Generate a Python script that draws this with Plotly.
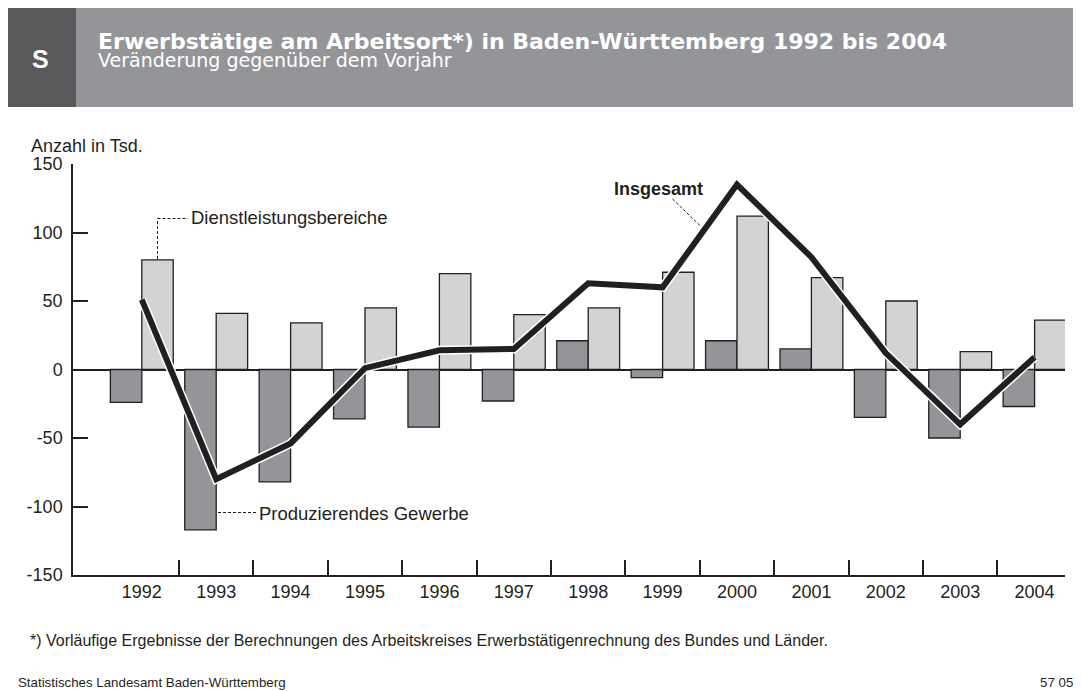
import plotly.graph_objects as go

# ---------------- data ----------------
years = [1992, 1993, 1994, 1995, 1996, 1997, 1998, 1999, 2000, 2001, 2002, 2003, 2004]
produzierendes = [-24, -117, -82, -36, -42, -23, 21, -6, 21, 15, -35, -50, -27]
dienstleistung = [80, 41, 34, 45, 70, 40, 45, 71, 112, 67, 50, 13, 36]
insgesamt = [51, -80, -54, 1, 14, 15, 63, 60, 135, 82, 12, -40, 9]
y_ticks = [-150, -100, -50, 0, 50, 100, 150]
y_tick_labels = ["-150", "-100", "-50", "0", "50", "100", "150"]

# ---------------- geometry (screen pixels; page body has an 8px margin) ----------------
OFF = 8
SW, SH = 1081, 691
FW, FH = SW - OFF, SH - OFF
L, R, T, B = 73, 1065, 164, 575  # plot area in screen pixels
W, H = R - L, B - T


def px(x):
    return (x - L) / W


def py(y):
    return (B - y) / H


INK = "#231f20"
DARK = "#939598"
LIGHT = "#d1d3d4"
BAND = "#939598"
SQUARE = "#58595b"
FONT = "Liberation Sans, Arial, sans-serif"
WIDE = "DejaVu Sans, sans-serif"

fig = go.Figure()
fig.add_trace(go.Bar(x=years, y=produzierendes, name="Produzierendes Gewerbe",
                     marker=dict(color=DARK, line=dict(color=INK, width=1.3))))
fig.add_trace(go.Bar(x=years, y=dienstleistung, name="Dienstleistungsbereiche",
                     marker=dict(color=LIGHT, line=dict(color=INK, width=1.3))))
fig.add_trace(go.Scatter(x=years, y=insgesamt, mode="lines", name="outline",
                         line=dict(color="white", width=9)))
fig.add_trace(go.Scatter(x=years, y=insgesamt, mode="lines", name="Insgesamt",
                         line=dict(color=INK, width=6)))

cat_w = 74.4
x0 = years[0] - (141.8 - L) / cat_w
x1 = x0 + W / cat_w

shapes = [
    # header band
    dict(type="rect", xref="paper", yref="paper", x0=px(5), x1=px(SW + 10), y0=py(107), y1=py(7),
         fillcolor=BAND, line=dict(width=0), layer="below"),
    dict(type="rect", xref="paper", yref="paper", x0=px(5), x1=px(76), y0=py(107), y1=py(7),
         fillcolor=SQUARE, line=dict(width=0), layer="below"),
    # left frame line
    dict(type="line", xref="paper", yref="paper", x0=px(5.5), x1=px(5.5), y0=py(107), y1=py(SH + 5),
         line=dict(color=SQUARE, width=1.5)),
    # Dienstleistung leader
    dict(type="line", xref="paper", yref="paper", x0=px(157.5), x1=px(157.5), y0=py(259), y1=py(218.5),
         line=dict(color=INK, width=1, dash="3px,2px")),
    dict(type="line", xref="paper", yref="paper", x0=px(157.5), x1=px(188), y0=py(218.5), y1=py(218.5),
         line=dict(color=INK, width=1, dash="3px,2px")),
    # Produzierendes leader
    dict(type="line", xref="paper", yref="paper", x0=px(218), x1=px(256), y0=py(512.5), y1=py(512.5),
         line=dict(color=INK, width=1, dash="3px,2px")),
    # Insgesamt leader
    dict(type="line", xref="paper", yref="paper", x0=px(672.5), x1=px(701.5), y0=py(199), y1=py(227),
         line=dict(color=INK, width=1, dash="3px,2px")),
]

title_text = ("<b><span style='font-size:22px'>Erwerbstätige am Arbeitsort*) in Baden-Württemberg 1992 bis 2004</span></b>"
              "<br><span style='font-size:19px'>Veränderung gegenüber dem Vorjahr</span>")

annotations = [
    dict(text="<b>S</b>", x=px(40.5), y=py(59), xref="paper", yref="paper", showarrow=False,
         xanchor="center", yanchor="middle", font=dict(family=FONT, size=25, color="white")),
    dict(text=title_text, x=px(96), y=py(50.5), xref="paper", yref="paper", showarrow=False,
         xanchor="left", yanchor="middle", align="left",
         font=dict(family=WIDE, size=13.5, color="white")),
    dict(text="Anzahl in Tsd.", x=px(29), y=py(146), xref="paper", yref="paper", showarrow=False,
         xanchor="left", yanchor="middle", font=dict(family=FONT, size=18, color=INK)),
    dict(text="Dienstleistungsbereiche", x=px(189), y=py(218), xref="paper", yref="paper",
         showarrow=False, xanchor="left", yanchor="middle", font=dict(family=FONT, size=18.5, color=INK)),
    dict(text="Produzierendes Gewerbe", x=px(257), y=py(513), xref="paper", yref="paper",
         showarrow=False, xanchor="left", yanchor="middle", font=dict(family=FONT, size=18.5, color=INK)),
    dict(text="<b>Insgesamt</b>", x=px(612), y=py(189), xref="paper", yref="paper",
         showarrow=False, xanchor="left", yanchor="middle", font=dict(family=FONT, size=18, color=INK)),
    dict(text="*) Vorläufige Ergebnisse der Berechnungen des Arbeitskreises Erwerbstätigenrechnung des Bundes und Länder.",
         x=px(28), y=py(640), xref="paper", yref="paper", showarrow=False,
         xanchor="left", yanchor="middle", font=dict(family=FONT, size=16, color=INK)),
    dict(text="Statistisches Landesamt Baden-Württemberg", x=px(16), y=py(682), xref="paper", yref="paper",
         showarrow=False, xanchor="left", yanchor="middle", font=dict(family=FONT, size=13.3, color=INK)),
    dict(text="57 05", x=px(1075), y=py(682), xref="paper", yref="paper",
         showarrow=False, xanchor="right", yanchor="middle", font=dict(family=FONT, size=13.3, color=INK)),
]

fig.update_layout(
    width=FW, height=FH,
    margin=dict(l=L - OFF, r=SW - R, t=T - OFF, b=SH - B, pad=0),
    paper_bgcolor="white", plot_bgcolor="white",
    barmode="group", bargap=0.155, bargroupgap=0,
    showlegend=False,
    shapes=shapes, annotations=annotations,
    font=dict(family=FONT, color=INK),
)
fig.update_xaxes(
    range=[x0, x1], showgrid=False, zeroline=False,
    showline=True, linecolor=INK, linewidth=1.5,
    tickmode="array", tickvals=years, ticktext=[str(y) for y in years],
    ticks="", tickfont=dict(family=FONT, size=18, color=INK),
    minor=dict(tickmode="array", tickvals=[y + 0.5 for y in years[:-1]],
               ticks="inside", ticklen=15, tickwidth=1.5, tickcolor=INK, showgrid=False),
    fixedrange=True,
)
fig.update_yaxes(
    range=[-150, 150], showgrid=False,
    zeroline=True, zerolinecolor=INK, zerolinewidth=1.5,
    showline=True, linecolor=INK, linewidth=1.5,
    tickmode="array", tickvals=y_ticks, ticktext=y_tick_labels,
    ticks="inside", ticklen=15, tickwidth=1.5, tickcolor=INK,
    ticklabelstandoff=5,
    tickfont=dict(family=FONT, size=18, color=INK),
    fixedrange=True,
)

fig.write_html("out.html")
